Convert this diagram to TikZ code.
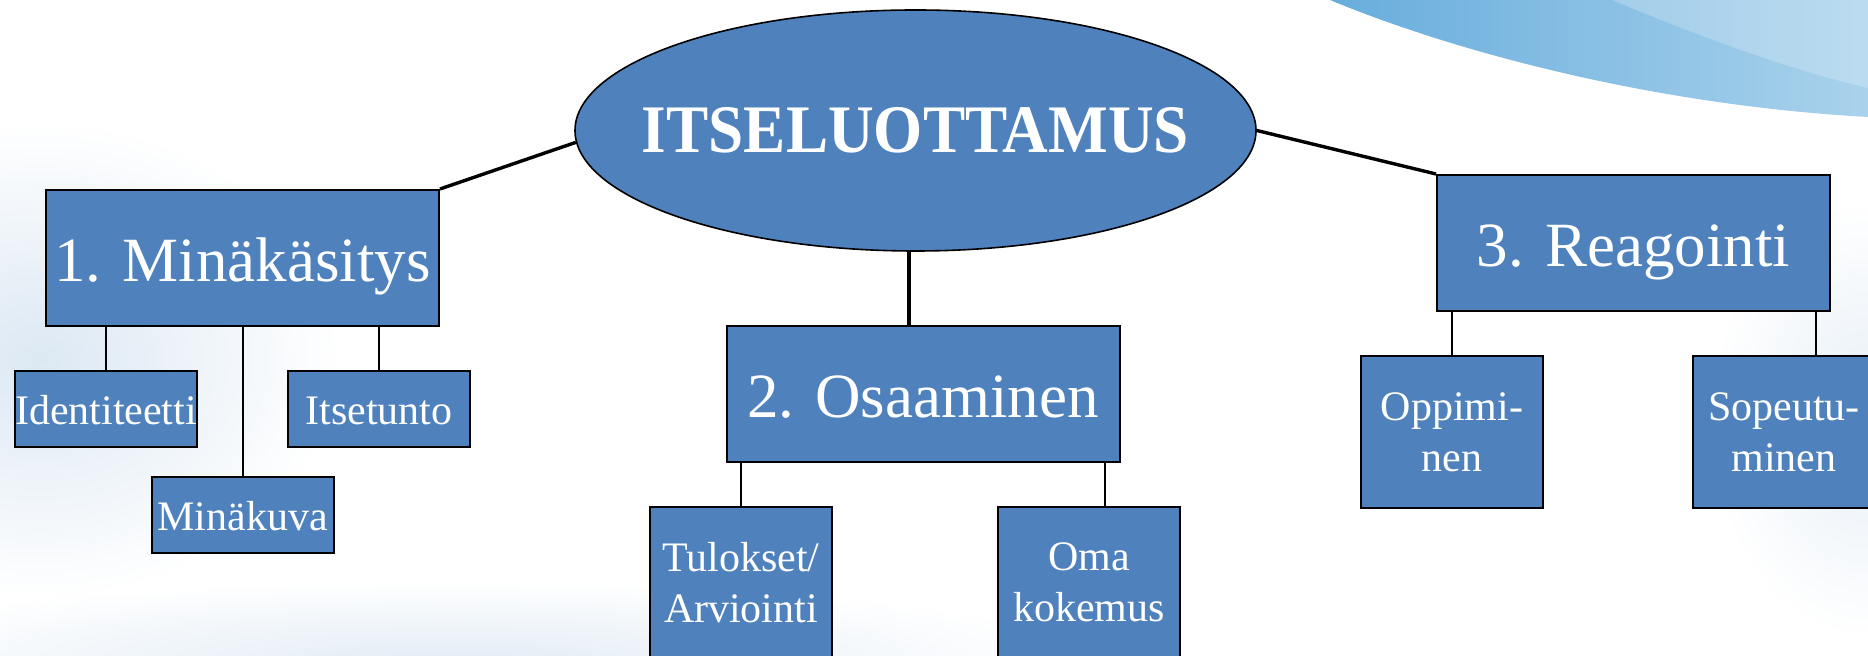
\documentclass[tikz,border=0pt]{standalone}
\usepackage{fontspec}
\setmainfont{Liberation Serif}
\usepackage{graphicx}
\usetikzlibrary{shapes.geometric,calc}
\definecolor{boxblue}{HTML}{4F81BD}
\definecolor{swooshA}{HTML}{68ADDC}
\definecolor{swooshB}{HTML}{A9D2EC}
\definecolor{haze}{HTML}{DCE8F3}
\begin{document}
\begin{tikzpicture}[x=0.5pt,y=-0.5pt,
  box/.style={draw=black,line width=1pt,fill=boxblue,text=white,inner sep=0pt,anchor=center},
  bigbox/.style={box,minimum width=196.5pt,minimum height=68pt,font=\fontsize{31.5}{36}\selectfont,text height=28pt,text depth=4pt},
  smallbox/.style={box,minimum width=91pt,minimum height=38pt,font=\fontsize{21}{25.5}\selectfont,text height=19pt,text depth=3pt},
  tallbox/.style={box,minimum width=91pt,minimum height=75.5pt,font=\fontsize{21}{25.5}\selectfont,align=center},
  mainline/.style={draw=black,line width=1.7pt},
  subline/.style={draw=black,line width=1pt}]
\clip (0,0) rectangle (1868,656);
\fill[white] (0,0) rectangle (1868,656);
% background haze
\shade[inner color=haze,outer color=white] (40,360) ellipse [x radius=300,y radius=240];
\shade[inner color=haze!80,outer color=white] (450,660) ellipse [x radius=650,y radius=80];
\shade[inner color=haze!70,outer color=white] (1868,420) ellipse [x radius=160,y radius=220];
% swoosh
\shade[left color=swooshA,right color=swooshB]
  (1330,0) .. controls (1450,50) and (1650,105) .. (1868,117) -- (1868,0) -- cycle;
\fill[white,opacity=0.22]
  (1612,0) .. controls (1720,45) and (1800,72) .. (1868,88) -- (1868,0) -- cycle;

% nodes
\node[ellipse,draw=black,line width=0.8pt,fill=boxblue,text=white,inner sep=0pt,
      minimum width=340.5pt,minimum height=120.5pt,font=\fontsize{34}{40}\selectfont\bfseries]
      (ell) at (915.5,130.5) {\makebox[0pt][c]{\scalebox{0.93}[1]{ITSELUOTTAMUS}}};
\node[bigbox] (b1) at (242.5,258) {1. Minäkäsitys};
\node[bigbox] (b2) at (923,394) {2. Osaaminen};
\node[bigbox] (b3) at (1633.5,243) {3. Reagointi};
\node[smallbox] (id) at (106,409) {Identiteetti};
\node[smallbox] (it) at (379,409) {Itsetunto};
\node[smallbox] (mk) at (242.5,515) {Minäkuva};
\node[tallbox] (tu) at (741,582.5) {Tulokset/\\Arviointi};
\node[tallbox] (om) at (1089,582.5) {Oma\\kokemus};
\node[tallbox,minimum height=76pt] (op) at (1452,432) {Oppimi-\\nen};
\node[tallbox,minimum height=76pt] (so) at (1784,432) {Sopeutu-\\minen};

% connectors
\draw[mainline] (ell.182.4) -- (b1.north east);
\draw[mainline] (ell.east) -- (b3.north west);
\draw[mainline] (ell.267) -- (ell.267 |- b2.north);
\draw[subline] (id.north) -- (id.north |- b1.south);
\draw[subline] (mk.north) -- (mk.north |- b1.south);
\draw[subline] (it.north) -- (it.north |- b1.south);
\coordinate (b2r) at ([xshift=-8pt]b2.south east);
\coordinate (b3r) at ([xshift=-7.5pt]b3.south east);
\draw[subline] (tu.north) -- (tu.north |- b2.south);
\draw[subline] (b2r) -- (b2r |- om.north);
\draw[subline] (op.north) -- (op.north |- b3.south);
\draw[subline] (b3r) -- (b3r |- so.north);
\end{tikzpicture}
\end{document}
